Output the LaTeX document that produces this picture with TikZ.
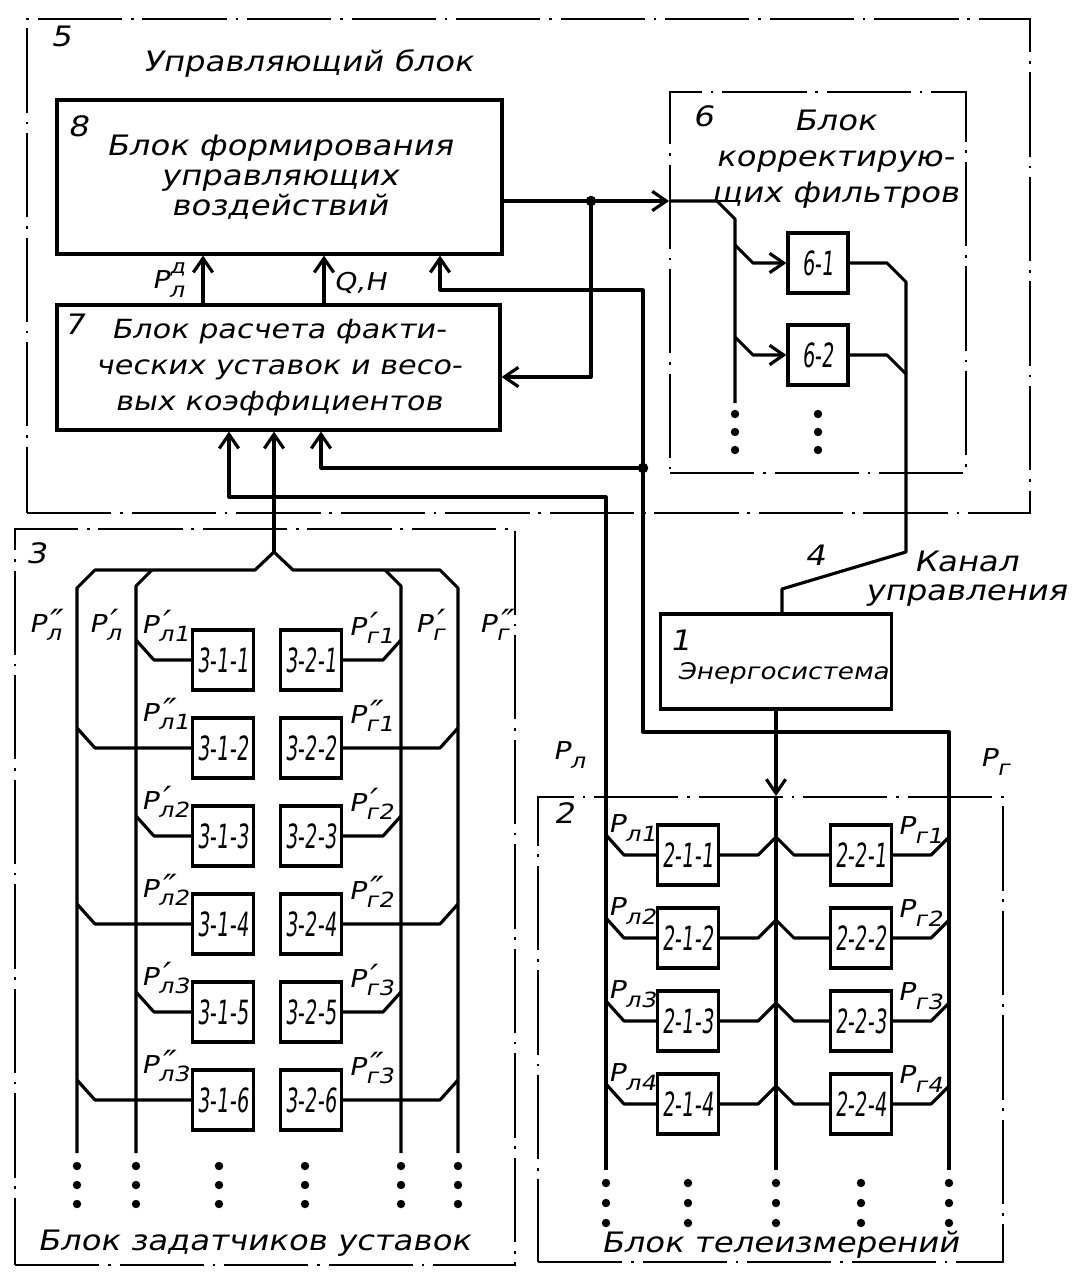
\documentclass[tikz,border=0pt]{standalone}
\usepackage{fontspec}
\usepackage{graphicx}
\usetikzlibrary{arrows.meta,positioning}
\newfontfamily\hand[FakeSlant=0.2,FakeStretch=1.15]{DejaVu Sans}
% P with subscript, and a mark above the subscript
\newcommand\plab[3]{Р\rlap{\kern0.5pt#3}\raisebox{-0.35em}{\scalebox{0.85}{#1#2}}}
\newcommand\pmone{\scalebox{1.3}{′}}
\newcommand\pmtwo{\scalebox{1.3}{″}}
\newcommand\supd{\raisebox{0.6em}{\scalebox{0.8}{д}}}
\newcommand\cellno[1]{\scalebox{0.5}[1]{#1}}

\begin{document}
\begin{tikzpicture}[x=0.02cm, y=-0.02cm,
  blk/.style={draw, line width=1.8pt, inner sep=0pt, align=center,
              font=\hand\fontsize{16}{17}\selectfont},
  frame/.style={draw, line width=1.1pt, inner sep=0pt,
                dash pattern=on 48pt off 5pt on 1.5pt off 5pt},
  cell/.style={draw, line width=1.8pt, minimum width=1.22cm, minimum height=1.2cm,
               inner sep=0pt, font=\hand\fontsize{19}{19}\selectfont},
  txt/.style={inner sep=0pt, align=center, font=\hand\fontsize{16}{20.5}\selectfont},
  lab/.style={inner sep=0pt, font=\hand\fontsize{14}{14}\selectfont},
  num/.style={inner sep=0pt, font=\hand\fontsize{16}{16}\selectfont},
  wire/.style={line width=1.8pt, line join=round},
  arr/.style={wire, -{Straight Barb[length=8pt,width=11pt]}}
]
  \useasboundingbox (0,0) rectangle (1072,1274);

  % block frames
  \node[frame, minimum width=20.06cm, minimum height=9.88cm] (b5) at (528.5,266) {};
  \node[frame, minimum width=5.92cm, minimum height=7.62cm]  (b6) at (818,282.5) {};
  \node[frame, minimum width=10cm, minimum height=14.72cm]   (b3) at (265,897) {};
  \node[frame, minimum width=9.3cm, minimum height=9.3cm]    (b2) at (770.5,1029.5) {};

  \node[num] (n5) at (61,36)   {5};
  \node[txt] (t5) at (308,64)  {Управляющий блок};
  \node[num] (n6) at (703,116) {6};
  \node[txt] (t6) at (835,159) {Блок\\корректирую-\\щих фильтров};
  \node[num] (n3) at (36,553)  {3};
  \node[txt] (t3) at (254,1243) {Блок задатчиков уставок};
  \node[num] (n2) at (564,813) {2};
  \node[txt] (t2) at (780,1245) {Блок телеизмерений};

  % control block
  \node[blk, minimum width=8.9cm, minimum height=3.08cm] (b8) at (279.5,177)
    {Блок формирования\\управляющих\\воздействий};
  \node[num] (n8) at (78,126) {8};
  \node[blk, minimum width=8.86cm, minimum height=2.5cm,
        font=\hand\fontsize{15}{20.5}\selectfont] (b7) at (278.5,367.5)
    {Блок расчета факти-\\ческих уставок и весо-\\вых коэффициентов};
  \node[num] (n7) at (74,324) {7};
  \node[cell, minimum width=1.2cm] (b61) at (818,263) {\cellno{6-1}};
  \node[cell, minimum width=1.2cm] (b62) at (818,355) {\cellno{6-2}};

  % power system and channel
  \node[blk, minimum width=4.62cm, minimum height=1.9cm] (b1) at (776,661.5) {};
  \node[num] (n1) at (680,640) {1};
  \node[txt, font=\hand\fontsize{13}{13}\selectfont] (t1) at (783,673) {Энергосистема};
  \node[num] (n4) at (815,555) {4};
  \node[txt] (kan) at (966,561) {Канал};
  \node[txt, below=7pt of kan] (upr) {управления};

  \coordinate (j1) at (591,201);
  \coordinate (fb) at (591,377);
  \coordinate (jg) at (643,468);
  \coordinate (pq) at (440,290);
  \coordinate (xd) at (203,0);
  \coordinate (xq) at (324,0);
  \coordinate (xl) at (229,0);
  \coordinate (xg) at (321,0);
  \coordinate (apex) at (274,552);
  \coordinate (ch) at (782,0);

  \draw[arr] (b7.north -| xd) -- (b8.south -| xd);
  \draw[arr] (b7.north -| xq) -- (b8.south -| xq);
  \node[lab] (pd) at (168,280) {\plab{л}{}{\supd}};
  \node[lab] (qh) at (360,283) {Q,H};

  \draw[arr] (b8.east |- j1) -- (j1 -| b6.west);
  \draw[arr] (j1) -- (fb) -- (fb -| b7.east);
  \fill (j1) circle[radius=3pt];

  % filters
  \draw[wire] (j1 -| b6.west) -- (717,201) -- (735,219) -- (735,403);
  \draw[arr] (735,245) -- (753,263) -- (b61.west);
  \draw[arr] (735,337) -- (753,355) -- (b62.west);
  \draw[wire] (b61.east) -- (887,263) -- (906,282) -- (906,552) -- (782,589) -- (b1.north -| ch);
  \draw[wire] (b62.east) -- (887,355) -- (906,374);

  % measurements
  \draw[arr] (606,1170) |- (229,497) -- (b7.south -| xl);
  \draw[arr] (949,1170) -- (949,732) -| (jg) -| (b7.south -| xg);
  \draw[arr] (jg) |- (pq) -- (pq |- b8.south);
  \fill (jg) circle[radius=3pt];
  \draw[arr] (b1.south) -- (b1.south |- b2.north);
  \draw[wire] (b1.south |- b2.north) -- (776,1170);
  \node[lab] (lpl) at (569,755) {\plab{л}{}{}};
  \node[lab] (lpg) at (995,762) {\plab{г}{}{}};

  % setpoint buses
  \draw[wire] (77,1153) -- (77,588) -- (95,570) -- (255,570) -- (apex)
    -- (293,570) -- (440,570) -- (458,588) -- (458,1153);
  \draw[wire] (136,1153) -- (136,586) -- (152,570);
  \draw[wire] (401,1153) -- (401,586) -- (385,570);
  \draw[arr] (apex) -- (apex |- b7.south);
  \node[lab] (l1) at (45,625)  {\plab{л}{}{\pmtwo}};
  \node[lab] (l2) at (105,625) {\plab{л}{}{\pmone}};
  \node[lab] (l3) at (430,625) {\plab{г}{}{\pmone}};
  \node[lab] (l4) at (494,625) {\plab{г}{}{\pmtwo}};

  \foreach \k/\ix/\pr/\lx/\rx in {1/1/\pmone/136/401, 2/1/\pmtwo/77/458, 3/2/\pmone/136/401,
                                  4/2/\pmtwo/77/458, 5/3/\pmone/136/401, 6/3/\pmtwo/77/458}{
    \pgfmathsetmacro\yc{660+88*(\k-1)}
    \node[cell] (c1\k) at (223,\yc) {\cellno{3-1-\k}};
    \node[cell] (c2\k) at (311,\yc) {\cellno{3-2-\k}};
    \node[lab] (sl\k) at (165,\yc-34) {\plab{л}{\ix}{\pr}};
    \node[lab] (sg\k) at (371,\yc-32) {\plab{г}{\ix}{\pr}};
    \draw[wire] (\lx,\yc-20) -- (\lx+18,\yc) -- (c1\k.west);
    \draw[wire] (c2\k.east) -- (\rx-18,\yc) -- (\rx,\yc-20);
  }

  % telemetry rows
  \foreach \k in {1,...,4}{
    \pgfmathsetmacro\yc{855+83*(\k-1)}
    \node[cell] (d1\k) at (688,\yc) {\cellno{2-1-\k}};
    \node[cell] (d2\k) at (861,\yc) {\cellno{2-2-\k}};
    \node[lab] (ml\k) at (632,\yc-27) {\plab{л}{\k}{}};
    \node[lab] (mg\k) at (920,\yc-25) {\plab{г}{\k}{}};
    \draw[wire] (606,\yc-20) -- (624,\yc) -- (d1\k.west);
    \draw[wire] (d1\k.east) -- (758,\yc) -- (776,\yc-18) -- (794,\yc) -- (d2\k.west);
    \draw[wire] (d2\k.east) -- (931,\yc) -- (949,\yc-18);
  }

  % continuation dots
  \foreach \x in {77,136,219,305,401,458}
    \foreach \y in {1166,1185,1204} \fill (\x,\y) circle[radius=2.4pt];
  \foreach \x in {606,688,776,861,949}
    \foreach \y in {1183,1203,1223} \fill (\x,\y) circle[radius=2.4pt];
  \foreach \x in {735,818}
    \foreach \y in {414,432,450} \fill (\x,\y) circle[radius=2.4pt];
\end{tikzpicture}
\end{document}
